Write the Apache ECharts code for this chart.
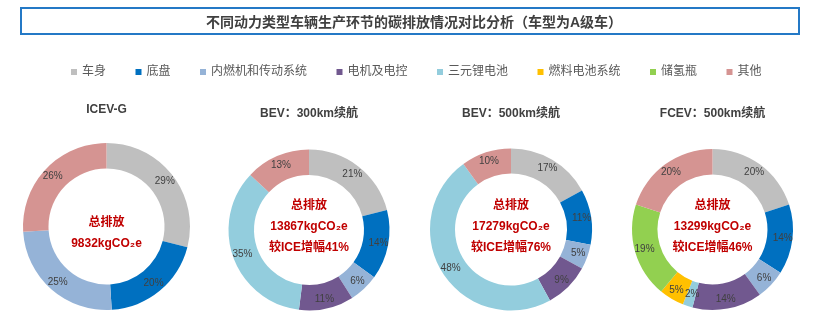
<!DOCTYPE html>
<html>
<head>
<meta charset="utf-8">
<script src="https://cdn.jsdelivr.net/npm/echarts@6/dist/echarts.min.js"></script>
<style>
html,body{margin:0;padding:0;background:#fff;}
#chart{width:820px;height:331px;}
</style>
</head>
<body>
<div id="chart"></div>
<script>
const mainTitle = '不同动力类型车辆生产环节的碳排放情况对比分析（车型为A级车）';
const categories = ['车身','底盘','内燃机和传动系统','电机及电控','三元锂电池','燃料电池系统','储氢瓶','其他'];
const categoryColors = ['#BFBFBF','#0070C0','#95B3D7','#71588F','#93CDDD','#FFC000','#92D050','#D59492'];
const vehicleTitles = ['ICEV-G','BEV：300km续航','BEV：500km续航','FCEV：500km续航'];
const icevG   = [29,20,25,0,0,0,0,26];
const bev300  = [21,14,6,11,35,0,0,13];
const bev500  = [17,11,5,9,48,0,0,10];
const fcev500 = [20,14,6,14,2,5,19,20];
const totalEmission = ['9832','13867','17279','13299'];
const increaseVsICE = [null,'41%','76%','46%'];

const seriesValues = [icevG, bev300, bev500, fcev500];
const centers = [[106.5,226.5],[309,230],[511,229.5],[712.5,229.5]];
const radii = [[58,83.5],[55,80.5],[56,81],[55,80.5]];
const titleY = [110,114,114,114];

const FONT = '"Liberation Sans", Arial, "Noto Sans CJK SC", sans-serif';

// tiny sectors: ECharts hides inside labels that do not fit, so place them
// with a negative label-line length so they still sit in the ring
const tinyLabel = {
  label: {position:'outside', distanceToLabelLine:-8},
  labelLine: {show:false, length:-12, length2:0}
};

const series = seriesValues.map((vals, si) => ({
  type: 'pie',
  center: centers[si],
  radius: radii[si],
  startAngle: 90,
  clockwise: true,
  avoidLabelOverlap: false,
  minShowLabelAngle: 0,
  silent: true,
  label: {
    show: true,
    position: 'inside',
    formatter: '{c}%',
    color: '#404040',
    fontSize: 10,
    fontFamily: FONT
  },
  labelLine: {show: false},
  itemStyle: {borderWidth: 0},
  data: categories.map((name, i) => Object.assign({
    name: name,
    value: vals[i],
    itemStyle: {color: categoryColors[i]}
  }, (vals[i] > 0 && vals[i] < 3) ? tinyLabel : {})).filter(d => d.value > 0)
}));

const graphics = [
  {type:'rect', z:-1, shape:{x:21, y:8, width:778, height:26},
   style:{fill:'#fff', stroke:'#2479C6', lineWidth:2}}
];
vehicleTitles.forEach((t, i) => {
  graphics.push({type:'text', x: centers[i][0], y: titleY[i],
    style:{text:t, fill:'#404040', font:'bold 12px ' + FONT, textAlign:'center', textVerticalAlign:'middle'}});
  const lines = [];
  lines.push('总排放');
  lines.push(totalEmission[i] + 'kgCO₂e');
  if (increaseVsICE[i]) lines.push('较ICE增幅' + increaseVsICE[i]);
  graphics.push({type:'text', x: centers[i][0], y: centers[i][1] + (increaseVsICE[i] ? -3 : 7),
    style:{
      text: lines.join('\n'),
      textAlign:'center', textVerticalAlign:'middle',
      fill:'#C00000', font:'bold 12px ' + FONT, lineHeight:21
    }});
});

const chart = echarts.init(document.getElementById('chart'), null, {renderer:'canvas'});
chart.setOption({
  backgroundColor:'#fff',
  animation:false,
  title:{
    text: mainTitle,
    left: 409, top: 11, textAlign:'center',
    textStyle:{fontSize:14, fontWeight:'bold', color:'#404040', fontFamily:FONT}
  },
  legend:{
    data: categories,
    left: 66, top: 61,
    icon:'rect', itemWidth:6, itemHeight:6, itemGap:29.5,
    selectedMode:false,
    textStyle:{fontSize:12, color:'#595959', fontFamily:FONT}
  },
  graphic: graphics,
  series: series
});
</script>
</body>
</html>
